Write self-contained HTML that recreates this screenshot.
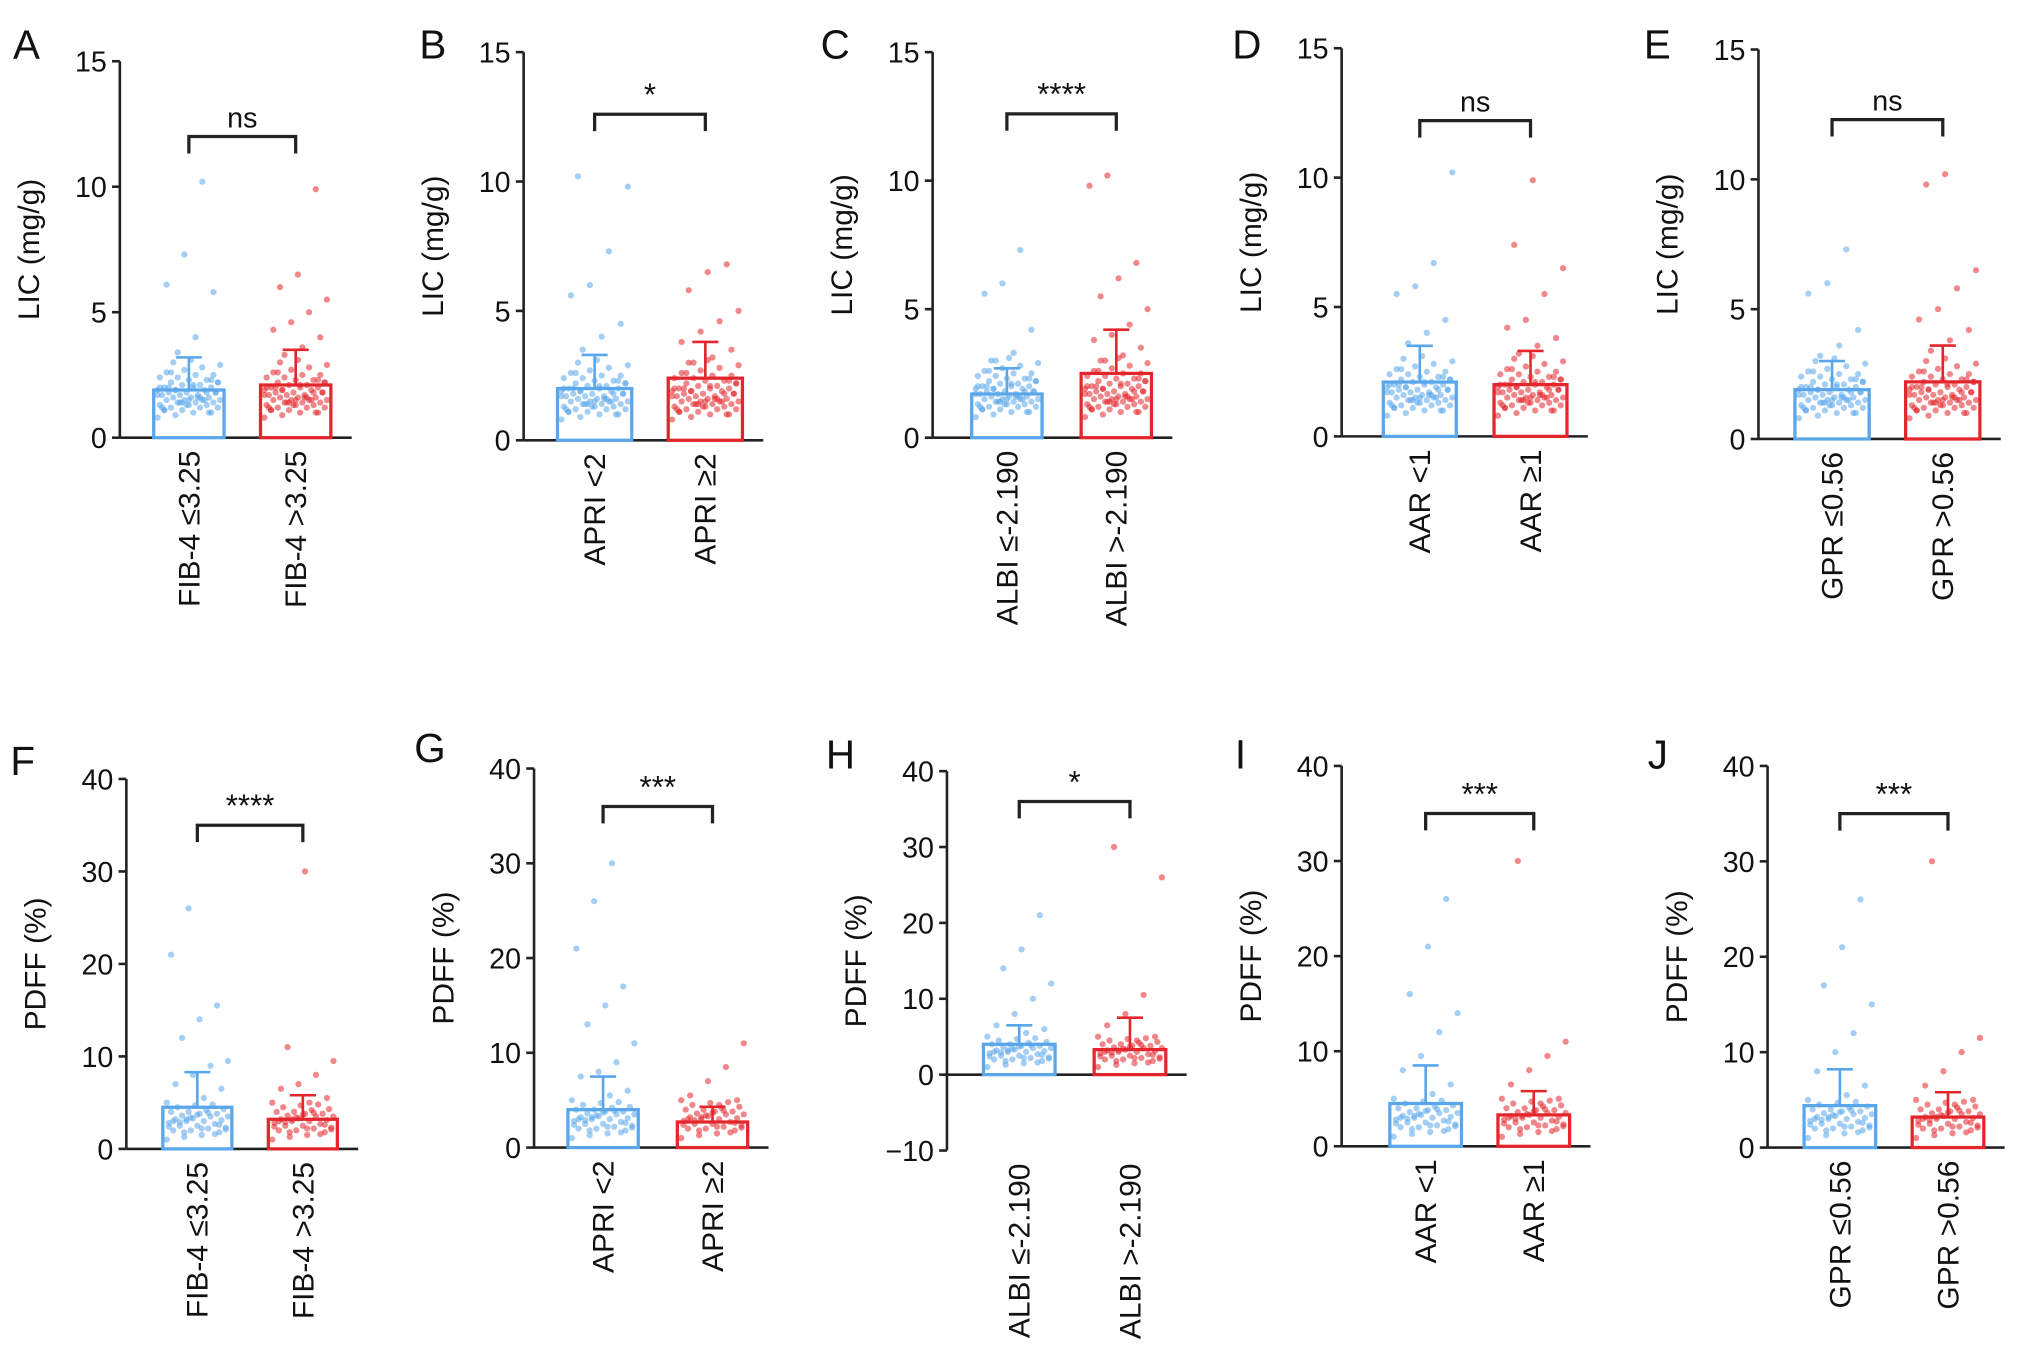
<!DOCTYPE html>
<html><head><meta charset="utf-8"><style>
html,body{margin:0;padding:0;background:#fff}
svg{display:block}
text{font-family:"Liberation Sans",sans-serif;fill:#111}
</style></head><body>
<svg id="fig" width="2032" height="1371" viewBox="0 0 1560 1052.5" xmlns="http://www.w3.org/2000/svg"></svg>
<script>
// ---- data ----
const panelLetters=["A","B","C","D","E","F","G","H","I","J"];
const yTitles=["LIC (mg/g)","LIC (mg/g)","LIC (mg/g)","LIC (mg/g)","LIC (mg/g)","PDFF (%)","PDFF (%)","PDFF (%)","PDFF (%)","PDFF (%)"];
const catLow=["FIB-4 ≤3.25","APRI <2","ALBI ≤-2.190","AAR <1","GPR ≤0.56","FIB-4 ≤3.25","APRI <2","ALBI ≤-2.190","AAR <1","GPR ≤0.56"];
const catHigh=["FIB-4 >3.25","APRI ≥2","ALBI >-2.190","AAR ≥1","GPR >0.56","FIB-4 >3.25","APRI ≥2","ALBI >-2.190","AAR ≥1","GPR >0.56"];
const meanLow=[1.9,2.0,1.7,2.1,1.9,4.5,4.0,4.0,4.5,4.4];
const meanHigh=[2.1,2.4,2.5,2.0,2.2,3.2,2.7,3.3,3.3,3.2];
const sdLow=[3.2,3.3,2.7,3.5,3.0,8.3,7.5,6.5,8.5,8.2];
const sdHigh=[3.5,3.8,4.2,3.3,3.6,5.8,4.3,7.5,5.8,5.8];
const sigLabels=["ns","*","****","ns","ns","****","***","*","***","***"];
const sigValues=[12.0,12.6,12.6,12.2,12.3,35,36,36,35,35];
const licCore=[0.8,0.9,1.0,1.0,1.1,1.1,1.2,1.2,1.2,1.3,1.3,1.3,1.4,1.4,1.4,1.5,1.5,1.5,1.5,1.6,1.6,1.6,1.7,1.7,1.7,1.8,1.8,1.8,1.9,1.9,1.9,2.0,2.0,2.0,2.1,2.1,2.2,2.2,2.3,2.3,2.4,2.4,2.5,2.5,2.6,2.7,2.8,2.9,3.0,3.1,1.0,1.2,1.4,1.6,1.8,2.0,1.3,1.5,1.7,1.9,2.1,2.3,1.1,1.4,1.6,2.2,2.6,1.5,1.8,2.0];
const licLowOut=[[3.4,4.0,5.8,6.1,7.3,10.2],[3.5,4.0,4.5,5.6,6.0,7.3,9.8,10.2],[3.0,3.3,4.2,5.6,6.0,7.3],[3.6,4.0,4.5,5.5,5.8,6.7,10.2],[3.2,3.6,4.2,5.6,6.0,7.3]];
const licHighOut=[[3.3,3.6,4.0,4.3,4.6,5.0,5.5,6.0,6.5,9.9],[3.0,3.2,3.5,3.8,4.2,4.6,5.0,5.8,6.5,6.8],[3.0,3.2,3.5,3.8,4.0,4.4,5.0,5.5,6.2,6.8,9.8,10.2],[3.2,3.5,3.8,4.2,4.5,5.5,6.5,7.4,9.9],[3.4,3.8,4.2,4.6,5.0,5.8,6.5,9.8,10.2]];
const pdffCore=[1.0,1.3,1.5,1.8,2.0,2.0,2.2,2.3,2.5,2.5,2.7,2.8,3.0,3.0,3.1,3.2,3.3,3.5,3.5,3.6,3.8,3.8,4.0,4.0,4.2,4.3,4.5,4.7,4.8,5.0,1.8,2.2,2.6,3.0,3.4,3.9,2.1,2.9,3.7,1.6,2.4,3.2];
const pdffLowOut=[[5.5,6.5,7.0,8.0,9.0,9.5,12,14,15.5,21,26],[5.5,6.0,7.5,8.0,9.0,11,13,15,17,21,26,30],[5.5,6.0,6.5,8.0,10,12,14,16.5,21],[5.5,6.5,8.0,9.5,12,14,16,21,26],[5.5,6.5,8.0,10,12,15,17,21,26]];
const pdffHighOut=[[5.0,5.5,6.5,7.0,8.0,9.5,11,30],[4.5,5.0,5.5,7.0,8.5,11],[4.5,5.0,6.5,8.0,10.5,26,30],[4.5,5.0,6.5,8.0,9.5,11,30],[4.5,5.0,6.5,8.0,10,11.5,30]];
// ---- layout (pixel geometry, not data) ----
const axX=[92,402,716,1030,1350,97,410,727,1030,1357];
const yTopPx=[47,40,40,37,38,598,590,592,588,588];
const yZeroPx=[336,338,336,335,337,882,881,825,880,881];
const yMaxV=[15,15,15,15,15,40,40,40,40,40];
const lowX=[118,428,746,1062,1378,125,436,755,1067,1385];
const highX=[200,513,830,1147,1463,206,520,840,1150,1468];
const barW=[54,57,54,56,57,53,54,55,55,55];
const letterPos=[[10,45],[322,45],[630,45],[946,45],[1262,45],[8,595],[318,585],[634,590],[948,590],[1265,590]];
const NS="http://www.w3.org/2000/svg";
const svg=document.getElementById('fig');
function mk(tag,attrs,parent){const e=document.createElementNS(NS,tag);for(const k in attrs)e.setAttribute(k,attrs[k]);(parent||svg).appendChild(e);return e;}
const BLUE="#5aa6ea",RED="#e3262b";
for(let p=0;p<10;p++){
  const g=mk('g',{});
  
  
  const x0=axX[p],top=yTopPx[p],zero=yZeroPx[p],vmax=yMaxV[p];
  const scale=(zero-top)/vmax;
  const y=v=>zero-v*scale;
  const isH=(p===7);
  const minV=isH?-10:0;
  const axisEnd=isH?y(-10):zero;
  const L=mk('text',{x:letterPos[p][0],y:letterPos[p][1],'font-size':31},g);L.textContent=panelLetters[p];
  
  
  const ya=mk('line',{x1:x0,y1:top,x2:x0,y2:axisEnd,stroke:'#222','stroke-width':2},g);
  
  
  const step=p<5?5:10;
  for(let v=minV;v<=vmax;v+=step){
    mk('line',{x1:x0-6,y1:y(v),x2:x0,y2:y(v),stroke:'#222','stroke-width':2},g);
    const t=mk('text',{x:x0-10,y:y(v)+8,'font-size':22,'text-anchor':'end'},g);
    t.textContent=v<0?'−'+Math.abs(v):String(v);
    
    
  }
  const xa=mk('line',{x1:x0,y1:zero,x2:highX[p]+barW[p]+16,y2:zero,stroke:'#222','stroke-width':2},g);
  
  
  const tx=x0-62,ty=(top+axisEnd)/2;
  const yt=mk('text',{x:tx,y:ty,'font-size':23,'text-anchor':'middle',transform:`rotate(-90 ${tx} ${ty})`},g);
  yt.textContent=yTitles[p];
  
  
  const li=p%5;
  const groups=[[lowX[p],meanLow[p],sdLow[p],BLUE,(p<5?licCore:pdffCore).concat(p<5?licLowOut[li]:pdffLowOut[li]),catLow[p],'low'],
                [highX[p],meanHigh[p],sdHigh[p],RED,(p<5?licCore:pdffCore).concat(p<5?licHighOut[li]:pdffHighOut[li]),catHigh[p],'high']];
  groups.forEach(([bx,m,sd,col,pts,lab,nm])=>{
    const w=barW[p],cx=bx+w/2;
    const r=mk('rect',{x:bx,y:y(m),width:w,height:zero-y(m),fill:'#fff',stroke:col,'stroke-width':2.5},g);
    
    
    pts.forEach((v,i)=>{
      const jx=((i*37)%29-14)/14*(w/2-3);
      const c=mk('circle',{cx:cx+jx,cy:y(v),r:2.4,fill:col,'fill-opacity':0.55},g);
      
      
    });
    const e=mk('path',{d:`M${cx},${y(m)} V${y(sd)} M${cx-10},${y(sd)} H${cx+10}`,stroke:col,'stroke-width':2,fill:'none'},g);
    
    
    const ly=axisEnd+10;
    const xl=mk('text',{x:cx+8,y:ly,'font-size':23,'text-anchor':'end',transform:`rotate(-90 ${cx+8} ${ly})`},g);
    xl.textContent=lab;
    
    
  });
  const c1=lowX[p]+barW[p]/2,c2=highX[p]+barW[p]/2,sy=y(sigValues[p]);
  const br=mk('path',{d:`M${c1},${sy+13} V${sy} H${c2} V${sy+13}`,stroke:'#222','stroke-width':2.5,fill:'none'},g);
  
  
  const st=mk('text',{x:(c1+c2)/2,y:sy-7,'font-size':sigLabels[p]==='ns'?22:24,'text-anchor':'middle'},g);
  st.textContent=sigLabels[p];
  
  
}
</script>
</body></html>
